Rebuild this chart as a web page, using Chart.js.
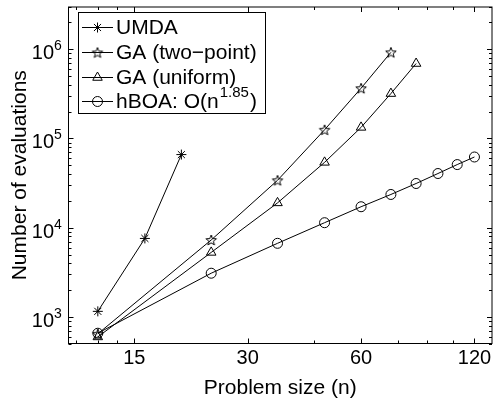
<!DOCTYPE html>
<html>
<head>
<meta charset="utf-8">
<script src="https://cdn.jsdelivr.net/npm/chart.js@4.4.1/dist/chart.umd.min.js"></script>
<style>
    html, body { margin: 0; padding: 0; background: #fff; }
    #wrap { width: 499px; height: 398px; }
</style>
</head>
<body>
<div id="wrap"><canvas id="chart" width="499" height="398"></canvas></div>
<script>
// Data
const umdaN = [12, 16, 20];
const umdaEvals = [1160, 7600, 66000];

const gaTwoN = [12, 24, 36, 48, 60, 72];
const gaTwoEvals = [650, 7300, 34000, 125000, 365000, 920000];

const gaUniN = [12, 24, 36, 48, 60, 72, 84];
const gaUniEvals = [600, 5300, 19000, 54000, 133000, 318000, 690000];

const hboaN = [12, 24, 36, 48, 60, 72, 84, 96, 108, 120];
const hboaEvals = [660, 3100, 6700, 11400, 17200, 23600, 31300, 40500, 51000, 62000];

// Axes
const xTicks = [15, 30, 60, 120];
const xMinorTicks = [10.5, 12, 13.5, 45, 75, 90, 105];
const yExponents = [3, 4, 5, 6];

const FONT = '"Liberation Sans", Arial, Helvetica, sans-serif';

// Pentagram marker (no built-in one in Chart.js)
function makePentagram(r) {
    const size = Math.ceil(r * 2 + 3);
    const c = document.createElement('canvas');
    c.width = size;
    c.height = size;
    const g = c.getContext('2d');
    const cx = size / 2, cy = size / 2 + 0.5;
    g.beginPath();
    for (let i = 0; i < 10; i++) {
        const rad = i % 2 === 0 ? r : r * 0.42;
        const a = -Math.PI / 2 + i * Math.PI / 5;
        const px = cx + rad * Math.cos(a), py = cy + rad * Math.sin(a);
        if (i === 0) g.moveTo(px, py); else g.lineTo(px, py);
    }
    g.closePath();
    g.strokeStyle = '#000';
    g.lineWidth = 1;
    g.stroke();
    return c;
}
const pentagram = makePentagram(5.5);

function toXY(xs, ys) {
    return xs.map((x, i) => ({ x: x, y: ys[i] }));
}

function series(label, xs, ys, style, radius) {
    return {
        label: label,
        data: toXY(xs, ys),
        borderColor: '#000',
        borderWidth: 1,
        pointStyle: style,
        pointRadius: radius,
        pointBorderColor: '#000',
        pointBorderWidth: 1,
        pointBackgroundColor: 'rgba(0,0,0,0)',
        tension: 0,
        fill: false
    };
}

// Frame, ticks, tick labels, titles and legend, MATLAB style
const axesDecor = {
    id: 'axesDecor',
    afterDraw(chart) {
        const ctx = chart.ctx;
        const a = chart.chartArea;
        const xs = chart.scales.x, ys = chart.scales.y;
        const L = a.left + 0.5, R = a.right - 0.5, T = a.top + 0.5, B = a.bottom - 0.5;

        ctx.save();
        ctx.strokeStyle = '#000';
        ctx.lineWidth = 1;
        ctx.strokeRect(L, T, R - L, B - T);

        // x ticks top and bottom
        const xTick = (v, len) => {
            const px = Math.round(xs.getPixelForValue(v)) + 0.5;
            ctx.beginPath();
            ctx.moveTo(px, B); ctx.lineTo(px, B - len);
            ctx.moveTo(px, T); ctx.lineTo(px, T + len);
            ctx.stroke();
        };
        xTicks.forEach(v => xTick(v, 5));
        xMinorTicks.forEach(v => xTick(v, 3));

        // y ticks left and right
        const yTick = (v, len) => {
            const py = Math.round(ys.getPixelForValue(v)) + 0.5;
            ctx.beginPath();
            ctx.moveTo(L, py); ctx.lineTo(L + len, py);
            ctx.moveTo(R, py); ctx.lineTo(R - len, py);
            ctx.stroke();
        };
        for (let e = 2; e <= 6; e++) {
            for (let m = 1; m <= 9; m++) {
                const v = m * Math.pow(10, e);
                if (v < ys.min || v > ys.max) continue;
                yTick(v, m === 1 ? 5 : 3);
            }
        }

        ctx.fillStyle = '#000';

        // x tick labels
        ctx.font = '20px ' + FONT;
        ctx.textAlign = 'center';
        ctx.textBaseline = 'alphabetic';
        xTicks.forEach(v => {
            ctx.fillText(String(v), xs.getPixelForValue(v), a.bottom + 20);
        });

        // y tick labels: 10 with superscript exponent
        yExponents.forEach(e => {
            const py = ys.getPixelForValue(Math.pow(10, e));
            ctx.font = '20px ' + FONT;
            ctx.textAlign = 'right';
            ctx.fillText('10', 54, py + 10);
            ctx.font = '14px ' + FONT;
            ctx.textAlign = 'left';
            ctx.fillText(String(e), 54, py + 1);
        });

        // axis titles
        ctx.font = '21px ' + FONT;
        ctx.textAlign = 'center';
        ctx.fillText('Problem size (n)', (a.left + a.right) / 2, 394);
        ctx.save();
        ctx.translate(26, (a.top + a.bottom) / 2);
        ctx.rotate(-Math.PI / 2);
        ctx.fillText('Number of evaluations', 0, 0);
        ctx.restore();

        // legend
        const lx = 78.5, ly = 12.5, lw = 187, lh = 101;
        ctx.fillStyle = '#fff';
        ctx.fillRect(lx, ly, lw, lh);
        ctx.strokeRect(lx, ly, lw, lh);
        const rowY = [27, 52, 77, 101];
        chart.data.datasets.forEach((ds, i) => {
            const y = rowY[i];
            ctx.strokeStyle = '#000';
            ctx.beginPath();
            ctx.moveTo(82, y + 0.5); ctx.lineTo(113, y + 0.5);
            ctx.stroke();
            ctx.fillStyle = 'rgba(0,0,0,0)';
            Chart.helpers.drawPoint(ctx, {
                pointStyle: ds.pointStyle,
                radius: ds.pointRadius,
                borderWidth: 1,
                rotation: 0
            }, 97.5, y + 0.5);
            ctx.fillStyle = '#000';
            ctx.font = '21px ' + FONT;
            ctx.textAlign = 'left';
            ctx.textBaseline = 'middle';
            if (i < 3) {
                ctx.fillText(ds.label, 116, y + 1);
            } else {
                const base = 'hBOA: O(n';
                ctx.fillText(base, 116, y + 1);
                const w = ctx.measureText(base).width;
                ctx.font = '15px ' + FONT;
                ctx.fillText('1.85', 116 + w + 1, y - 8);
                const w2 = ctx.measureText('1.85').width;
                ctx.font = '21px ' + FONT;
                ctx.fillText(')', 116 + w + w2 + 2, y + 1);
            }
        });
        ctx.restore();
    }
};

new Chart(document.getElementById('chart'), {
    type: 'line',
    data: {
        datasets: [
            series('UMDA', umdaN, umdaEvals, 'star', 5),
            series('GA (two\u2212point)', gaTwoN, gaTwoEvals, pentagram, 5.5),
            series('GA (uniform)', gaUniN, gaUniEvals, 'triangle', 5.5),
            series('hBOA', hboaN, hboaEvals, 'circle', 5)
        ]
    },
    options: {
        responsive: false,
        animation: false,
        devicePixelRatio: 1,
        layout: { padding: { top: 6, right: 1, left: 0, bottom: 0 } },
        plugins: {
            legend: { display: false },
            tooltip: { enabled: false }
        },
        scales: {
            x: {
                type: 'logarithmic',
                min: 10,
                max: 134,
                bounds: 'data',
                grid: { display: false },
                border: { display: false },
                ticks: { display: false },
                afterFit(s) { s.height = 54; }
            },
            y: {
                type: 'logarithmic',
                min: 500,
                max: 3e6,
                bounds: 'data',
                grid: { display: false },
                border: { display: false },
                ticks: { display: false },
                afterFit(s) { s.width = 68; }
            }
        }
    },
    plugins: [axesDecor]
});
</script>
</body>
</html>
